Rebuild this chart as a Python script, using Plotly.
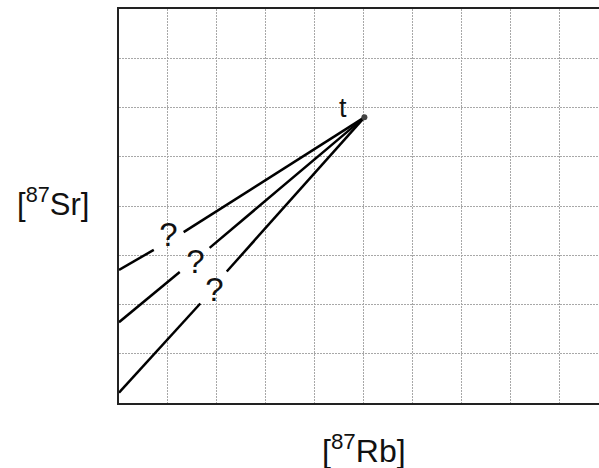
import plotly.graph_objects as go

# Isochron lines: read positions (x, y) in grid units; None marks gap with "?"
line1_x = [0.0, 0.71, None, 1.32, 5.01]
line1_y = [2.70, 3.11, None, 3.47, 5.80]
line2_x = [0.0, 1.24, None, 1.85, 5.01]
line2_y = [1.64, 2.66, None, 3.15, 5.80]
line3_x = [0.0, 1.66, None, 2.20, 5.01]
line3_y = [0.21, 2.02, None, 2.67, 5.80]

point_x = [5.01]
point_y = [5.80]
point_label = "t"

q_x = [1.01, 1.56, 1.95]
q_y = [3.36, 2.81, 2.23]
q_text = ["?", "?", "?"]

x_title = "[<sup>87</sup>Rb]"
y_title = "[<sup>87</sup>Sr]"

FONT = "Arial, Liberation Sans, Helvetica, sans-serif"

fig = go.Figure()
for lx, ly in [(line1_x, line1_y), (line2_x, line2_y), (line3_x, line3_y)]:
    fig.add_trace(go.Scatter(x=lx, y=ly, mode="lines",
                             line=dict(color="black", width=2.5),
                             connectgaps=False, hoverinfo="skip", cliponaxis=False))

fig.add_trace(go.Scatter(x=point_x, y=point_y, mode="markers",
                         marker=dict(color="#444444", size=6)))

fig.add_trace(go.Scatter(x=q_x, y=q_y, mode="text", text=q_text,
                         textfont=dict(family=FONT, size=33, color="#111111"),
                         textposition="middle center"))

fig.add_annotation(x=point_x[0], y=point_y[0], text=point_label, showarrow=False,
                   xanchor="right", yanchor="bottom", xshift=-15, yshift=-8,
                   font=dict(family=FONT, size=27, color="#111111"))

fig.add_annotation(xref="paper", yref="paper", x=(364 - 119) / 480, y=-0.06,
                   text=x_title, showarrow=False, xanchor="center", yanchor="top",
                   font=dict(family=FONT, size=32, color="#111111"))
fig.add_annotation(xref="paper", yref="paper", x=(53 - 119) / 480, y=(403 - 202) / 394,
                   text=y_title, showarrow=False, xanchor="center", yanchor="middle",
                   font=dict(family=FONT, size=31, color="#111111"))

fig.update_layout(
    width=599, height=468,
    margin=dict(l=119, r=0, t=9, b=65),
    paper_bgcolor="white", plot_bgcolor="white",
    showlegend=False,
    xaxis=dict(range=[0, 9.8], dtick=1, tick0=0, showgrid=True, gridcolor="#a8a8a8",
               griddash="2px,1px", gridwidth=1, zeroline=False, showticklabels=False,
               ticks="", showline=True, linecolor="#222222", linewidth=2, mirror=True),
    yaxis=dict(range=[0, 8], dtick=1, tick0=0, showgrid=True, gridcolor="#a8a8a8",
               griddash="2px,1px", gridwidth=1, zeroline=False, showticklabels=False,
               ticks="", showline=True, linecolor="#222222", linewidth=2, mirror=False),
)

fig.write_html("out.html", config={"displayModeBar": False},
               post_script="document.body.style.margin='0';")
